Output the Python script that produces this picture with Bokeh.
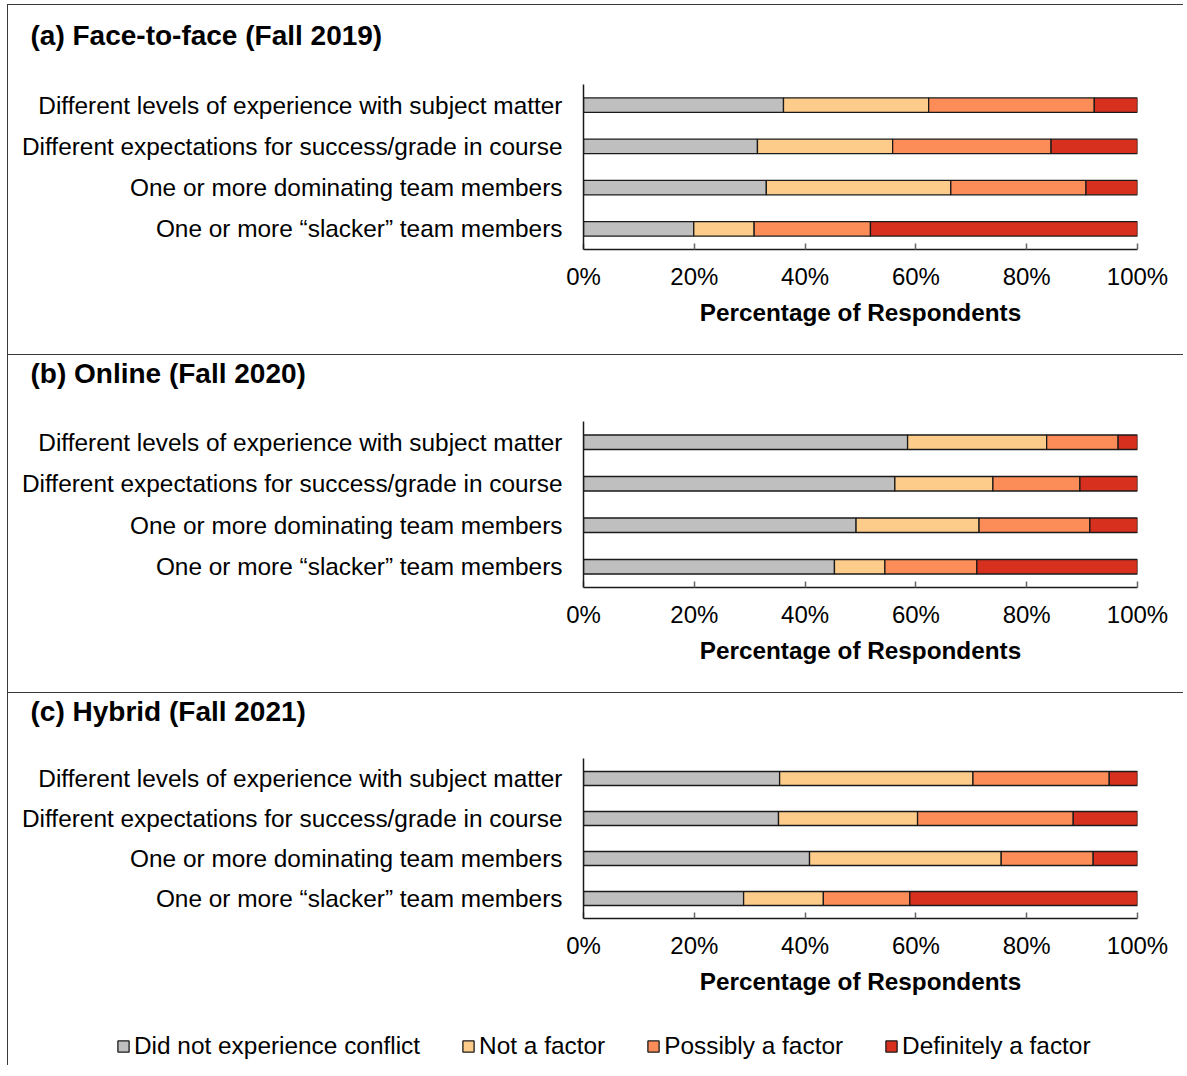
from bokeh.plotting import figure
from bokeh.models import (FactorRange, Range1d, FixedTicker, PrintfTickFormatter,
                          Legend, LegendItem, ColumnDataSource, Title)
from bokeh.layouts import column
from bokeh.embed import file_html
from bokeh.resources import INLINE

# ---------------- data ----------------
categories = [
    "Different levels of experience with subject matter",
    "Different expectations for success/grade in course",
    "One or more dominating team members",
    "One or more \u201cslacker\u201d team members",
]
series = ["Did not experience conflict", "Not a factor", "Possibly a factor", "Definitely a factor"]
colors = ["#BFBFBF", "#FDCC8A", "#FC8D59", "#D7301F"]
tick_values = [0, 20, 40, 60, 80, 100]

titles = ["(a) Face-to-face (Fall 2019)", "(b) Online (Fall 2020)", "(c) Hybrid (Fall 2021)"]

# panel (a)
a_none = [36.1, 31.4, 33.0, 19.9]
a_not = [26.2, 24.4, 33.3, 10.9]
a_poss = [29.9, 28.6, 24.4, 21.0]
a_def = [7.8, 15.6, 9.3, 48.2]
# panel (b)
b_none = [58.5, 56.2, 49.2, 45.3]
b_not = [25.1, 17.7, 22.2, 9.1]
b_poss = [12.9, 15.7, 20.0, 16.6]
b_def = [3.5, 10.4, 8.6, 29.0]
# panel (c)
c_none = [35.4, 35.2, 40.8, 28.9]
c_not = [34.9, 25.1, 34.6, 14.4]
c_poss = [24.6, 28.1, 16.6, 15.6]
c_def = [5.1, 11.6, 8.0, 41.1]

FONT = "Liberation Sans"
W = 1176
BORDER = "1px solid #3a3a3a"
KEYS = ["s0", "s1", "s2", "s3"]


def make_source(vals):
    return ColumnDataSource(dict(cat=categories, **{k: v for k, v in zip(KEYS, vals)}))


def make_panel(title, vals, height, top, bottom, title_standoff, spacer):
    p = figure(width=W, height=height, title=None,
               y_range=FactorRange(factors=categories[::-1], range_padding=0),
               x_range=Range1d(0, 100),
               output_backend="svg", toolbar_location=None,
               min_border_left=575, min_border_right=47,
               min_border_top=top, min_border_bottom=bottom)
    src = make_source(vals)
    p.hbar_stack(KEYS, y="cat", height=0.35, fill_color=colors,
                 line_color="#1a1a1a", line_width=1.3, source=src)
    p.grid.visible = False
    p.outline_line_color = None

    xa = p.xaxis[0]
    xa.ticker = FixedTicker(ticks=tick_values)
    xa.formatter = PrintfTickFormatter(format="%d%%")
    xa.axis_label = "Percentage of Respondents"
    xa.axis_label_text_font = FONT
    xa.axis_label_text_font_style = "bold"
    xa.axis_label_text_font_size = "24.3px"
    xa.axis_label_text_color = "#000000"
    xa.axis_label_standoff = 6
    xa.major_label_text_font = FONT
    xa.major_label_text_font_size = "24px"
    xa.major_label_text_color = "#000000"
    xa.major_label_standoff = 13
    xa.major_tick_in = 6
    xa.major_tick_out = 0
    xa.minor_tick_in = 0
    xa.minor_tick_out = 0
    xa.major_tick_line_color = "#666666"
    xa.major_tick_line_width = 1.5
    xa.axis_line_color = "#1a1a1a"
    xa.axis_line_width = 1.5

    ya = p.yaxis[0]
    ya.major_label_text_font = FONT
    ya.major_label_text_font_size = "24.4px"
    ya.major_label_text_color = "#000000"
    ya.major_label_standoff = 21
    ya.major_tick_in = 0
    ya.major_tick_out = 0
    ya.axis_line_color = "#1a1a1a"
    ya.axis_line_width = 1.5

    # spacer between frame and title (nearest the frame), then the title itself
    p.add_layout(Title(text=" ", text_font_size="1px", standoff=spacer), "above")
    p.add_layout(Title(text=title, align="left", offset=-553, standoff=title_standoff,
                       text_font=FONT, text_font_size="28px", text_font_style="bold",
                       text_color="#000000"), "above")

    p.styles = {"border-left": BORDER, "border-top": BORDER}
    return p


pa = make_panel(titles[0], [a_none, a_not, a_poss, a_def], 350, 79, 106, 22, 20)
pb = make_panel(titles[1], [b_none, b_not, b_poss, b_def], 338, 66, 106, 0, 30)
pc = make_panel(titles[2], [c_none, c_not, c_poss, c_def], 323, 64, 98, 0, 29)

# ---------------- legend (own root, full-width frame) ----------------
pl = figure(width=W, height=50, x_range=Range1d(0, 100),
            y_range=FactorRange(factors=categories[::-1]),
            x_axis_location=None, y_axis_location=None,
            output_backend="svg", toolbar_location=None,
            min_border_left=0, min_border_right=0, min_border_top=0, min_border_bottom=0)
pl.grid.visible = False
pl.outline_line_color = None
lr = pl.hbar_stack(KEYS, y="cat", height=0.35, fill_color=colors,
                   line_color="#1a1a1a", line_width=1.3,
                   source=make_source([c_none, c_not, c_poss, c_def]))
for r in lr:
    r.visible = False
items = [LegendItem(label=name, renderers=[r]) for name, r in zip(series, lr)]
leg = Legend(items=items, orientation="horizontal", location=(108, 5),
             glyph_width=14, glyph_height=14, label_standoff=4, spacing=41,
             padding=0, margin=0, border_line_color=None, background_fill_alpha=0,
             label_text_font=FONT, label_text_font_size="24.4px", label_text_color="#000000")
pl.add_layout(leg, "center")
pl.styles = {"border-left": BORDER}
pl.margin = (0, 0, 0, 7)

layout = column(pa, pb, pc, spacing=0, margin=(4, 0, 0, 7))
open("out.html", "w").write(file_html([layout, pl], INLINE))
